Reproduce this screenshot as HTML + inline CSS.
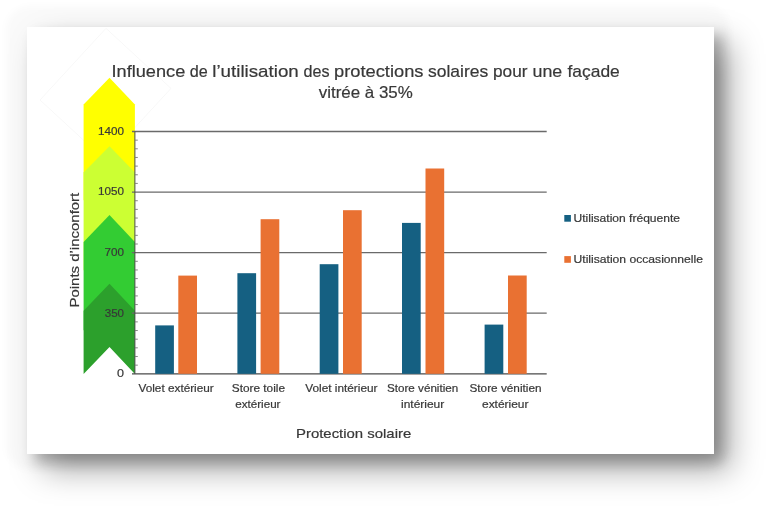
<!DOCTYPE html>
<html lang="fr">
<head>
<meta charset="utf-8">
<title>Influence de l’utilisation des protections solaires</title>
<style>
  html, body { margin: 0; padding: 0; background: #ffffff; }
  body { width: 768px; height: 509px; overflow: hidden; position: relative;
         font-family: "Liberation Sans", sans-serif; }
  .card { position: absolute; left: 27px; top: 26.8px; width: 686.8px; height: 427.4px;
          background: #ffffff;
          box-shadow: 8px 8px 12px rgba(0,0,0,0.22), 16px 16px 30px rgba(0,0,0,0.35); }
  .glow { position: absolute; left: 6px; top: 6px; width: 724px; height: 464px; border-radius: 24px;
          background: rgba(0,0,0,0.02); filter: blur(3px); }
  svg { position: absolute; left: 0; top: 0; filter: blur(0.3px); }
  text { font-family: "Liberation Sans", sans-serif; fill: #383838; stroke: #383838; stroke-width: 0.2px; }
</style>
</head>
<body>
<div class="glow"></div>
<div class="card"></div>
<svg width="768" height="509" viewBox="0 0 768 509">
  <!-- faint diamond -->
  <polygon points="106,28.3 171,88.4 105,160 40,100" fill="none" stroke="#f8f8f8" stroke-width="1"/>

  <g transform="translate(0,0.2)">
  <!-- comfort arrow -->
  <g>
    <polygon points="83.6,104.3 109.5,77.6 134.9,104.3 134.9,200 83.6,200" fill="#ffff00"/>
    <polygon points="83.6,172.4 109.5,146 134.9,172.4 134.9,270 83.6,270" fill="#ccff33"/>
    <polygon points="83.6,241.7 109.5,214.9 134.9,241.7 134.9,330 83.6,330" fill="#33cc33"/>
    <polygon points="83.6,310.6 109.5,283.5 134.9,310.6 134.9,373.8 109.5,346.7 83.6,373.8" fill="#2ca02c"/>
  </g>

  <!-- gridlines and axis -->
  <g stroke="#6a6a6a" stroke-width="1.35">
    <line x1="132" y1="131.3" x2="546.7" y2="131.3"/>
    <line x1="132" y1="191.9" x2="546.7" y2="191.9"/>
    <line x1="132" y1="252.4" x2="546.7" y2="252.4"/>
    <line x1="132" y1="313" x2="546.7" y2="313"/>
    <line x1="132" y1="373.6" x2="546.7" y2="373.6" stroke="#4a4a4a"/>
    <line x1="134.9" y1="131.3" x2="134.9" y2="373.6" stroke-width="1" stroke="#4a4a4a"/>
  </g>
  <g stroke="#7a7a7a" stroke-width="0.9">
    <line x1="135" y1="364.95" x2="137.8" y2="364.95"/>
    <line x1="135" y1="356.29" x2="137.8" y2="356.29"/>
    <line x1="135" y1="347.64" x2="137.8" y2="347.64"/>
    <line x1="135" y1="338.99" x2="137.8" y2="338.99"/>
    <line x1="135" y1="330.33" x2="137.8" y2="330.33"/>
    <line x1="135" y1="321.68" x2="137.8" y2="321.68"/>
    <line x1="135" y1="304.37" x2="137.8" y2="304.37"/>
    <line x1="135" y1="295.72" x2="137.8" y2="295.72"/>
    <line x1="135" y1="287.06" x2="137.8" y2="287.06"/>
    <line x1="135" y1="278.41" x2="137.8" y2="278.41"/>
    <line x1="135" y1="269.76" x2="137.8" y2="269.76"/>
    <line x1="135" y1="261.10" x2="137.8" y2="261.10"/>
    <line x1="135" y1="243.80" x2="137.8" y2="243.80"/>
    <line x1="135" y1="235.14" x2="137.8" y2="235.14"/>
    <line x1="135" y1="226.49" x2="137.8" y2="226.49"/>
    <line x1="135" y1="217.84" x2="137.8" y2="217.84"/>
    <line x1="135" y1="209.18" x2="137.8" y2="209.18"/>
    <line x1="135" y1="200.53" x2="137.8" y2="200.53"/>
    <line x1="135" y1="183.22" x2="137.8" y2="183.22"/>
    <line x1="135" y1="174.57" x2="137.8" y2="174.57"/>
    <line x1="135" y1="165.91" x2="137.8" y2="165.91"/>
    <line x1="135" y1="157.26" x2="137.8" y2="157.26"/>
    <line x1="135" y1="148.61" x2="137.8" y2="148.61"/>
    <line x1="135" y1="139.95" x2="137.8" y2="139.95"/>
  </g>

  <!-- bars -->
  <g fill="#156082">
    <rect x="155.2" y="325.2" width="18.7" height="48.4"/>
    <rect x="237.4" y="273" width="18.7" height="100.6"/>
    <rect x="319.7" y="264" width="18.7" height="109.6"/>
    <rect x="402" y="222.7" width="18.7" height="150.9"/>
    <rect x="484.6" y="324.4" width="18.7" height="49.2"/>
  </g>
  <g fill="#e97132">
    <rect x="178.3" y="275.4" width="18.7" height="98.2"/>
    <rect x="260.6" y="219" width="18.7" height="154.6"/>
    <rect x="343" y="210" width="18.7" height="163.6"/>
    <rect x="425.5" y="168.3" width="18.7" height="205.3"/>
    <rect x="508" y="275.3" width="18.7" height="98.3"/>
  </g>
  </g>

  <!-- title -->
  <g font-size="17">
    <text y="76.8"><tspan x="111.50" textLength="73.75" lengthAdjust="spacingAndGlyphs">Influence</tspan> <tspan x="189.75" textLength="18.00" lengthAdjust="spacingAndGlyphs">de</tspan> <tspan x="212.25" textLength="86.50" lengthAdjust="spacingAndGlyphs">l’utilisation</tspan> <tspan x="303.50" textLength="26.00" lengthAdjust="spacingAndGlyphs">des</tspan> <tspan x="334.00" textLength="89.50" lengthAdjust="spacingAndGlyphs">protections</tspan> <tspan x="428.00" textLength="60.25" lengthAdjust="spacingAndGlyphs">solaires</tspan> <tspan x="493.00" textLength="34.50" lengthAdjust="spacingAndGlyphs">pour</tspan> <tspan x="532.50" textLength="29.75" lengthAdjust="spacingAndGlyphs">une</tspan> <tspan x="567.50" textLength="52.25" lengthAdjust="spacingAndGlyphs">façade</tspan></text>
    <text x="318.75" y="98.3" textLength="94.00" lengthAdjust="spacingAndGlyphs">vitrée à 35%</text>
  </g>

  <!-- y tick labels -->
  <g font-size="10.8">
    <text x="98.00" y="134.8" textLength="26.00" lengthAdjust="spacingAndGlyphs">1400</text>
    <text x="98.00" y="195.4" textLength="26.00" lengthAdjust="spacingAndGlyphs">1050</text>
    <text x="104.50" y="255.9" textLength="19.50" lengthAdjust="spacingAndGlyphs">700</text>
    <text x="104.75" y="316.5" textLength="19.25" lengthAdjust="spacingAndGlyphs">350</text>
    <text x="117.00" y="377.0" textLength="7.00" lengthAdjust="spacingAndGlyphs">0</text>
  </g>

  <!-- y axis label -->
  <g font-size="13.4" transform="translate(79.3,307.50) rotate(-90)">
    <text x="0" y="0" textLength="114.75" lengthAdjust="spacingAndGlyphs">Points d’inconfort</text>
  </g>

  <!-- category labels -->
  <g font-size="10.8">
    <text x="138.50" y="392.3" textLength="75.25" lengthAdjust="spacingAndGlyphs">Volet extérieur</text>
    <text x="231.75" y="392.3" textLength="53.25" lengthAdjust="spacingAndGlyphs">Store toile</text>
    <text x="235.25" y="407.5" textLength="45.25" lengthAdjust="spacingAndGlyphs">extérieur</text>
    <text x="305.25" y="392.3" textLength="72.25" lengthAdjust="spacingAndGlyphs">Volet intérieur</text>
    <text x="387.00" y="392.3" textLength="71.25" lengthAdjust="spacingAndGlyphs">Store vénitien</text>
    <text x="401.00" y="407.5" textLength="43.25" lengthAdjust="spacingAndGlyphs">intérieur</text>
    <text x="469.50" y="392.3" textLength="72.00" lengthAdjust="spacingAndGlyphs">Store vénitien</text>
    <text x="482.00" y="407.5" textLength="46.50" lengthAdjust="spacingAndGlyphs">extérieur</text>
  </g>

  <!-- x axis label -->
  <g font-size="13">
    <text x="296.00" y="437.6" textLength="115.25" lengthAdjust="spacingAndGlyphs">Protection solaire</text>
  </g>

  <!-- legend -->
  <rect x="564.3" y="215" width="6.6" height="6.7" fill="#156082"/>
  <rect x="564.3" y="256.1" width="6.6" height="6.7" fill="#e97132"/>
  <g font-size="10.8">
    <text x="573.50" y="221.5" textLength="106.50" lengthAdjust="spacingAndGlyphs">Utilisation fréquente</text>
    <text x="573.50" y="262.5" textLength="129.50" lengthAdjust="spacingAndGlyphs">Utilisation occasionnelle</text>
  </g>
</svg>
</body>
</html>
